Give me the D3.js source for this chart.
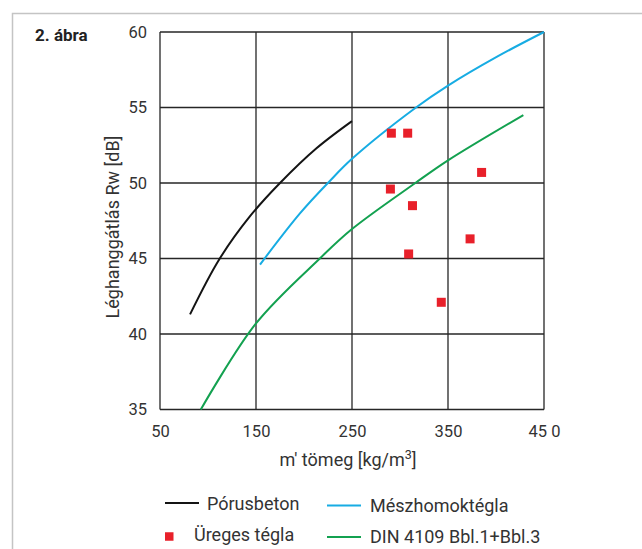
<!DOCTYPE html>
<html>
<head>
<meta charset="utf-8">
<script src="https://cdn.jsdelivr.net/npm/d3@7"></script>
<style>
  html, body { margin: 0; padding: 0; background: #fff; }
  svg { display: block; }
  text { font-family: Roboto, "Noto Sans", sans-serif; fill: #333; }
</style>
</head>
<body>
<svg id="chart" width="642" height="549"></svg>
<script>
// Axis ticks and labels
const xTicks = [50, 150, 250, 350, 450];
const xTickLabels = ["50", "150", "250", "350", "45 0"];
const yTicks = [35, 40, 45, 50, 55, 60];

// Pórusbeton curve: mass [kg/m3], Rw [dB]
const poroMass = [81.3, 111.8, 143.8, 175, 213, 250];
const poroRw   = [41.3, 44.95, 47.8, 50.0, 52.3, 54.1];

// Mészhomoktégla curve
const meszMass = [154.2, 196, 226.4, 250, 315.6, 350, 400.7, 450];
const meszRw   = [44.6, 48.0, 50.1, 51.6, 54.95, 56.45, 58.35, 60.0];

// DIN 4109 Bbl.1+Bbl.3 curve
const dinMass = [92.5, 150, 216.5, 250, 316, 350, 428.5];
const dinRw   = [35.0, 40.7, 45.0, 46.95, 50.0, 51.5, 54.5];

// Üreges tégla measurements
const uregesMass = [291, 308, 385, 290, 313, 373, 309, 343];
const uregesRw   = [53.3, 53.3, 50.7, 49.6, 48.5, 46.3, 45.3, 42.1];

const colors = {
  poro: "#141414",
  mesz: "#17ace3",
  din: "#13a150",
  ureges: "#e8202a",
  grid: "#262626"
};

const svg = d3.select("#chart");

// outer frame (open at right/bottom)
svg.append("path")
  .attr("d", "M12.5,549 V13.5 H642")
  .attr("fill", "none")
  .attr("stroke", "#c4c4c4")
  .attr("stroke-width", 1.5);

svg.append("text")
  .attr("x", 35).attr("y", 41)
  .attr("font-size", 17).attr("font-weight", 700)
  .style("fill", "#222")
  .text("2. ábra");

const plot = { left: 160, right: 544, top: 32, bottom: 409.5 };

const x = d3.scaleLinear().domain([50, 450]).range([plot.left, plot.right]);
const y = d3.scaleLinear().domain([35, 60]).range([plot.bottom, plot.top]);

const g = svg.append("g");

// grid
g.selectAll("line.vgrid").data(xTicks).join("line")
  .attr("class", "vgrid")
  .attr("x1", d => x(d)).attr("x2", d => x(d))
  .attr("y1", plot.top).attr("y2", plot.bottom)
  .attr("stroke", colors.grid).attr("stroke-width", 1.3);

g.selectAll("line.hgrid").data(yTicks).join("line")
  .attr("class", "hgrid")
  .attr("x1", plot.left).attr("x2", plot.right)
  .attr("y1", d => y(d)).attr("y2", d => y(d))
  .attr("stroke", colors.grid).attr("stroke-width", 1.3);

// axis labels
const xAxis = d3.axisBottom(x)
  .tickValues(xTicks)
  .tickFormat((d, i) => xTickLabels[i])
  .tickSize(0).tickPadding(16);
const xa = svg.append("g").attr("transform", `translate(0,${plot.bottom})`).call(xAxis);
xa.select(".domain").remove();
xa.selectAll("text").attr("font-size", 16.5).attr("font-family", "Roboto, sans-serif").style("fill", "#333");

const yAxis = d3.axisLeft(y)
  .tickValues(yTicks)
  .tickFormat(d3.format("d"))
  .tickSize(0).tickPadding(13);
const ya = svg.append("g").attr("transform", `translate(${plot.left},0)`).call(yAxis);
ya.select(".domain").remove();
ya.selectAll("text").attr("font-size", 16.5).attr("font-family", "Roboto, sans-serif").style("fill", "#333");

// curves
const line = d3.line()
  .x(d => x(d[0])).y(d => y(d[1]))
  .curve(d3.curveCatmullRom.alpha(0.5));

const series = [
  { mass: poroMass, rw: poroRw, color: colors.poro },
  { mass: meszMass, rw: meszRw, color: colors.mesz },
  { mass: dinMass, rw: dinRw, color: colors.din }
];

g.selectAll("path.curve").data(series).join("path")
  .attr("class", "curve")
  .attr("d", s => line(d3.zip(s.mass, s.rw)))
  .attr("fill", "none")
  .attr("stroke", s => s.color)
  .attr("stroke-width", 2);

// measured points
const sq = 9;
g.selectAll("rect.pt").data(d3.zip(uregesMass, uregesRw)).join("rect")
  .attr("class", "pt")
  .attr("x", d => x(d[0]) - sq / 2)
  .attr("y", d => y(d[1]) - sq / 2)
  .attr("width", sq).attr("height", sq)
  .attr("fill", colors.ureges);

// axis titles
const xt = svg.append("text")
  .attr("x", 348).attr("y", 466)
  .attr("text-anchor", "middle")
  .attr("font-size", 18);
xt.append("tspan").text("m' tömeg [kg/m");
xt.append("tspan").attr("font-size", 12.5).attr("dy", -7).text("3");
xt.append("tspan").attr("dy", 7).text("]");

svg.append("text")
  .attr("transform", "translate(119,227) rotate(-90)")
  .attr("text-anchor", "middle")
  .attr("font-size", 18)
  .text("Léghanggátlás Rw [dB]");

// legend
const legend = [
  { type: "line", color: colors.poro, label: "Pórusbeton", x: 165, y: 503, tx: 207, ty: 509.5 },
  { type: "line", color: colors.mesz, label: "Mészhomoktégla", x: 327, y: 505.5, tx: 370, ty: 511.5 },
  { type: "rect", color: colors.ureges, label: "Üreges tégla", x: 165, y: 536.5, tx: 194, ty: 541 },
  { type: "line", color: colors.din, label: "DIN 4109 Bbl.1+Bbl.3", x: 327, y: 537, tx: 370, ty: 542.5 }
];

const lg = svg.append("g");
legend.forEach(d => {
  if (d.type === "line") {
    lg.append("line")
      .attr("x1", d.x).attr("x2", d.x + 34)
      .attr("y1", d.y).attr("y2", d.y)
      .attr("stroke", d.color).attr("stroke-width", 2);
  } else {
    lg.append("rect")
      .attr("x", d.x).attr("y", d.y - 4.25)
      .attr("width", 8.5).attr("height", 8.5)
      .attr("fill", d.color);
  }
  lg.append("text")
    .attr("x", d.tx).attr("y", d.ty)
    .attr("font-size", 18)
    .text(d.label);
});
</script>
</body>
</html>
